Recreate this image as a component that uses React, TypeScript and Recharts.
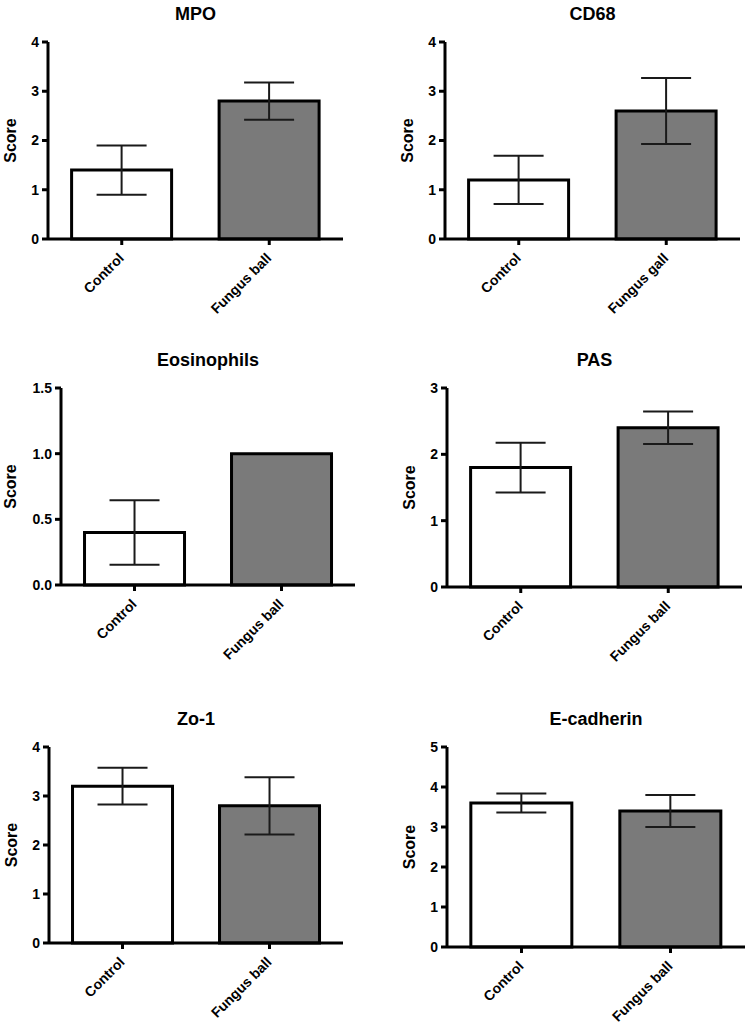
import { Bar, BarChart, Cell, ErrorBar, XAxis, YAxis } from 'recharts';

const groups = ['Control', 'Fungus ball'];
const groupsCd68 = ['Control', 'Fungus gall'];

const mpoMean = [1.4, 2.8];
const mpoSem = [0.5, 0.38];
const cd68Mean = [1.2, 2.6];
const cd68Sem = [0.49, 0.67];
const eosMean = [0.4, 1.0];
const eosSem = [0.245, 0];
const pasMean = [1.8, 2.4];
const pasSem = [0.375, 0.245];
const zoMean = [3.2, 2.8];
const zoSem = [0.375, 0.585];
const ecadMean = [3.6, 3.4];
const ecadSem = [0.24, 0.4];

const ticks4 = [0, 1, 2, 3, 4];
const ticks15 = [0, 0.5, 1, 1.5];
const ticks3 = [0, 1, 2, 3];
const ticks5 = [0, 1, 2, 3, 4, 5];

const fills = ['#ffffff', '#7a7a7a'];
const font = '"Liberation Sans", Arial, sans-serif';

const Y_W = 60;
const M_TOP = 40;
const M_RIGHT = 8;
const X_H = 100;

const SlantTick = (props: any) => {
  const { x, y, payload } = props;
  return (
    <text
      x={0}
      y={0}
      transform={`translate(${x + 3},${y + 12}) rotate(-45)`}
      textAnchor="end"
      fontSize={14}
      fontWeight="bold"
      fontFamily={font}
      fill="#000"
    >
      {payload.value}
    </text>
  );
};

type PanelProps = {
  title: string;
  names: string[];
  mean: number[];
  sem: number[];
  ticks: number[];
  decimals: number;
  axisX: number;
  topY: number;
  zeroY: number;
  endX: number;
  labelGap: number;
};

const Panel = ({ title, names, mean, sem, ticks, decimals, axisX, topY, zeroY, endX, labelGap }: PanelProps) => {
  const plotW = endX - axisX;
  const plotH = zeroY - topY;
  const w = Y_W + plotW + M_RIGHT;
  const h = M_TOP + plotH + X_H;
  const data = names.map((name, i) => ({ name, mean: mean[i], sem: sem[i] }));
  return (
    <div style={{ position: 'absolute', left: axisX - Y_W, top: topY - M_TOP, width: w, height: h }}>
      <BarChart width={w} height={h} data={data} margin={{ top: M_TOP, right: M_RIGHT, bottom: 0, left: 0 }} barCategoryGap="16%">
        <XAxis
          dataKey="name"
          height={X_H}
          interval={0}
          axisLine={{ stroke: '#000', strokeWidth: 3 }}
          tickLine={{ stroke: '#000', strokeWidth: 3 }}
          tickSize={6}
          tick={<SlantTick />}
        />
        <YAxis
          width={Y_W}
          domain={[0, ticks[ticks.length - 1]]}
          ticks={ticks}
          interval={0}
          axisLine={{ stroke: '#000', strokeWidth: 3 }}
          tickLine={{ stroke: '#000', strokeWidth: 3 }}
          tickSize={6}
          tickMargin={3}
          tickFormatter={(v: number) => v.toFixed(decimals)}
          tick={{ fontSize: 14, fontWeight: 'bold', fill: '#000', fontFamily: font }}
          label={() => (
            <text
              x={0}
              y={0}
              transform={`translate(${Y_W - labelGap},${M_TOP + plotH / 2}) rotate(-90)`}
              textAnchor="middle"
              fontSize={16}
              fontWeight="bold"
              fontFamily={font}
              fill="#000"
            >
              Score
            </text>
          )}
        />
        <Bar dataKey="mean" stroke="#000" strokeWidth={3} isAnimationActive={false}>
          {data.map((d, i) => (
            <Cell key={d.name} fill={fills[i]} />
          ))}
          <ErrorBar dataKey="sem" width={25} stroke="#1a1a1a" strokeWidth={2} direction="y" isAnimationActive={false} />
        </Bar>
      </BarChart>
      <svg width={w} height={M_TOP} style={{ position: 'absolute', left: 0, top: 0, overflow: 'visible', pointerEvents: 'none' }}>
        <text x={Y_W + plotW / 2} y={M_TOP - 22} textAnchor="middle" fontSize={18} fontWeight="bold" fontFamily={font} fill="#000">
          {title}
        </text>
      </svg>
    </div>
  );
};

export default function App() {
  return (
    <div style={{ position: 'absolute', left: 0, top: 0, width: 751, height: 1035, background: '#fff' }}>
      <Panel title="MPO" names={groups} mean={mpoMean} sem={mpoSem} ticks={ticks4} decimals={0} axisX={48} topY={42} zeroY={239} endX={343} labelGap={32} />
      <Panel title="CD68" names={groupsCd68} mean={cd68Mean} sem={cd68Sem} ticks={ticks4} decimals={0} axisX={445} topY={42} zeroY={239} endX={740} labelGap={32} />
      <Panel title="Eosinophils" names={groups} mean={eosMean} sem={eosSem} ticks={ticks15} decimals={1} axisX={61} topY={388} zeroY={585} endX={355} labelGap={45} />
      <Panel title="PAS" names={groups} mean={pasMean} sem={pasSem} ticks={ticks3} decimals={0} axisX={447} topY={388} zeroY={587} endX={742} labelGap={32} />
      <Panel title="Zo-1" names={groups} mean={zoMean} sem={zoSem} ticks={ticks4} decimals={0} axisX={49} topY={747} zeroY={943} endX={343} labelGap={32} />
      <Panel title="E-cadherin" names={groups} mean={ecadMean} sem={ecadSem} ticks={ticks5} decimals={0} axisX={447} topY={747} zeroY={947} endX={745} labelGap={32} />
    </div>
  );
}
